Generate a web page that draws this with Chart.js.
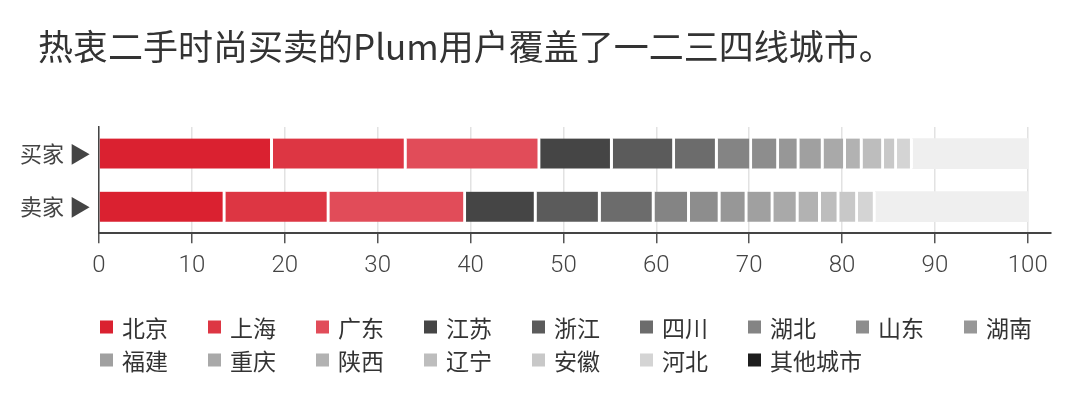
<!DOCTYPE html>
<html>
<head>
<meta charset="utf-8">
<script src="https://cdn.jsdelivr.net/npm/chart.js@4"></script>
<style>
  html, body { margin: 0; padding: 0; background: #fff; }
  #wrap { width: 1080px; height: 395px; }
</style>
</head>
<body>
<div id="wrap"><canvas id="cityChart" width="1080" height="395"></canvas></div>
<script>
// Share of users by city (percent)
const rowLabels = ["买家 ▶", "卖家 ▶"];
const cities = ["北京", "上海", "广东", "江苏", "浙江", "四川", "湖北", "山东", "湖南",
                "福建", "重庆", "陕西", "辽宁", "安徽", "河北", "其他城市"];
const buyerShare = [18.7, 14.4, 14.4, 7.8, 6.7, 4.6, 3.7, 2.9, 2.2, 2.6, 2.4, 1.8, 2.3, 1.4, 1.7, 12.4];
const sellerShare = [13.6, 11.2, 14.7, 7.6, 6.9, 5.8, 3.8, 3.3, 2.9, 2.8, 2.7, 2.4, 2.0, 2.0, 1.9, 16.4];
const xTicks = [0, 10, 20, 30, 40, 50, 60, 70, 80, 90, 100];

// Colours
const barColors = ["#da2130", "#dd3643", "#e14c59", "#454545", "#5b5b5b", "#6c6c6c", "#848484", "#8d8d8d",
                   "#979797", "#a0a0a0", "#a9a9a9", "#b2b2b2", "#bdbdbd", "#c8c8c8", "#d4d4d4", "#efefef"];
const legendColors = barColors.slice(0, 15).concat(["#1e1e1e"]);

const CJK = "'Noto Sans CJK SC', 'Noto Sans', sans-serif";

// Legend drawn as a fixed grid (9 columns), like the original
const gridLegend = {
    id: "gridLegend",
    afterLayout(chart) {
        // title starts at x=38 while the y axis labels use the full left margin
        if (chart.titleBlock) chart.titleBlock.left = 38;
    },
    afterDraw(chart) {
        const ctx = chart.ctx;
        ctx.save();
        ctx.font = "23px " + CJK;
        ctx.textBaseline = "middle";
        ctx.textAlign = "left";
        chart.data.datasets.forEach((ds, i) => {
            const col = i % 9;
            const row = Math.floor(i / 9);
            const x = 100 + col * 108;
            const y = 327 + row * 33;
            ctx.fillStyle = legendColors[i];
            ctx.fillRect(x, y - 6.5, 13, 13);
            ctx.fillStyle = "#333";
            ctx.fillText(ds.label, x + 22, y + 1);
        });
        ctx.restore();
    }
};

document.addEventListener("DOMContentLoaded", function() {
    const ctx = document.getElementById("cityChart").getContext("2d");

    const datasets = cities.map((city, i) => ({
        label: city,
        data: [buyerShare[i], sellerShare[i]],
        backgroundColor: barColors[i],
        borderColor: "#ffffff",
        borderWidth: i === cities.length - 1 ? 0 : { right: 3 },
        borderSkipped: false,
        barThickness: 30
    }));

    new Chart(ctx, {
        type: "bar",
        data: { labels: rowLabels, datasets: datasets },
        plugins: [gridLegend],
        options: {
            indexAxis: "y",
            responsive: false,
            animation: false,
            layout: { padding: { left: 0, right: 29, top: 0, bottom: 107 } },
            plugins: {
                legend: { display: false },
                tooltip: { enabled: false },
                title: {
                    display: true,
                    text: "热衷二手时尚买卖的Plum用户覆盖了一二三四线城市。",
                    align: "start",
                    color: "#333",
                    font: { family: CJK, size: 35, weight: "normal", lineHeight: 1.2 },
                    padding: { top: 26, bottom: 59 }
                }
            },
            scales: {
                x: {
                    stacked: true,
                    min: 0,
                    max: 102.5,
                    afterBuildTicks: function(scale) {
                        scale.ticks = xTicks.map(v => ({ value: v }));
                    },
                    grid: {
                        color: "#e2e2e2",
                        tickColor: "#555",
                        tickLength: 10,
                        lineWidth: 1.5
                    },
                    border: { color: "#444", width: 2 },
                    ticks: {
                        color: "#444",
                        padding: 8,
                        maxRotation: 0,
                        font: { family: "Roboto, sans-serif", size: 24, weight: 300 }
                    }
                },
                y: {
                    stacked: true,
                    afterFit: function(scale) { scale.width = 99; },
                    grid: { display: false },
                    border: { color: "#444", width: 1.5 },
                    ticks: {
                        color: "#444",
                        padding: 0,
                        font: { family: CJK, size: 22 }
                    }
                }
            }
        }
    });
});
</script>
</body>
</html>
